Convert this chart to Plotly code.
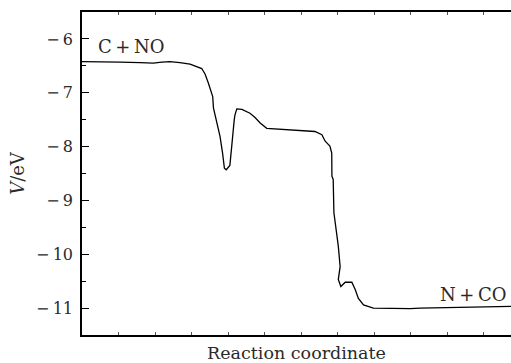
import plotly.graph_objects as go

# Reaction coordinate (arbitrary units) and potential energy V (eV)
coord = [0.00, 0.49, 1.04, 1.59, 1.95, 2.19, 2.41, 2.68, 2.96, 3.28, 3.37, 3.46,
         3.53, 3.58, 3.60, 3.69, 3.78, 3.85, 3.90, 3.95, 4.00, 4.05, 4.10, 4.15,
         4.17, 4.19, 4.24, 4.38, 4.60, 4.74, 4.88, 5.06, 5.33, 5.70, 6.11, 6.38,
         6.57, 6.66, 6.79, 6.84, 6.845, 6.88, 6.90, 7.02, 7.07, 7.02, 7.09, 7.21,
         7.39, 7.48, 7.57, 7.71, 7.98, 8.44, 8.99, 9.26, 10.08, 10.90, 11.75]
energy = [-6.42, -6.42, -6.43, -6.44, -6.45, -6.43, -6.42, -6.44, -6.47, -6.55, -6.65, -6.82,
          -6.95, -7.07, -7.28, -7.53, -7.81, -8.12, -8.40, -8.43, -8.38, -8.35, -8.00, -7.56,
          -7.50, -7.41, -7.30, -7.31, -7.38, -7.46, -7.56, -7.66, -7.67, -7.69, -7.70, -7.72,
          -7.78, -7.90, -7.99, -8.12, -8.55, -8.61, -9.23, -9.85, -10.23, -10.47, -10.60, -10.52,
          -10.52, -10.65, -10.82, -10.94, -11.00, -11.01, -11.01, -11.00, -10.99, -10.98, -10.97]

y_tickvals = [-6, -7, -8, -9, -10, -11]
y_ticktext = ["\u2212\u20096", "\u2212\u20097", "\u2212\u20098", "\u2212\u20099",
              "\u2212\u200910", "\u2212\u200911"]

labels = ["C\u2009+\u2009NO", "N\u2009+\u2009CO"]
label_x = [1.35, 10.72]
label_y = [-6.15, -10.75]

serif = "DejaVu Serif"
ink = "#2a2a2a"

fig = go.Figure()
fig.add_trace(go.Scatter(x=coord, y=energy, mode="lines",
                         line=dict(color="black", width=1.3), hoverinfo="skip",
                         showlegend=False))

for t, lx, ly in zip(labels, label_x, label_y):
    fig.add_annotation(x=lx, y=ly, text=t, showarrow=False,
                       font=dict(family=serif, size=18, color=ink),
                       xanchor="center", yanchor="middle")

fig.update_layout(
    width=511, height=363,
    margin=dict(l=82, r=0, t=12, b=28),
    paper_bgcolor="white", plot_bgcolor="white",
    font=dict(family=serif, color=ink),
    xaxis=dict(range=[0, 11.75], dtick=1, tick0=0, ticks="inside", ticklen=3,
               tickcolor="#555", showticklabels=False, showgrid=False, zeroline=False,
               showline=True, linecolor="black", linewidth=1.5, mirror="ticks",
               title=dict(text="Reaction coordinate", standoff=11,
                          font=dict(family=serif, size=17.5, color=ink))),
    yaxis=dict(range=[-11.5, -5.5], tickvals=y_tickvals, ticktext=y_ticktext,
               ticks="inside", ticklen=7,
               tickcolor="black", tickwidth=1.2,
               minor=dict(dtick=0.5, ticks="inside", ticklen=4, tickcolor="black"),
               showgrid=False, zeroline=False, showline=True, linecolor="black",
               linewidth=1.5, ticklabelstandoff=4,
               tickfont=dict(family=serif, size=16, color=ink),
               title=dict(text="<i>V</i>/eV", standoff=7,
                          font=dict(family=serif, size=18, color=ink))),
)

fig.write_html("out.html")
